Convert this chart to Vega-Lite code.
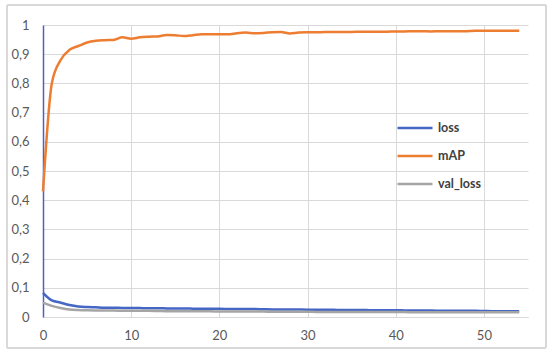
{
  "$schema": "https://vega.github.io/schema/vega-lite/v6.json",
  "width": 485,
  "height": 292,
  "autosize": {"type": "none"},
  "padding": {"left": 43, "top": 25, "right": 22, "bottom": 38},
  "background": "white",
  "config": {"view": {"stroke": null}, "font": "Lato"},
  "data": {"values": [
    {"epoch":0,"loss":0.083,"mAP":0.43,"val_loss":0.049},
    {"epoch":1,"loss":0.057,"mAP":0.80,"val_loss":0.038},
    {"epoch":2,"loss":0.049,"mAP":0.88,"val_loss":0.031},
    {"epoch":3,"loss":0.041,"mAP":0.915,"val_loss":0.026},
    {"epoch":4,"loss":0.036,"mAP":0.928,"val_loss":0.024},
    {"epoch":5,"loss":0.034,"mAP":0.94,"val_loss":0.023},
    {"epoch":6,"loss":0.033,"mAP":0.946,"val_loss":0.0225},
    {"epoch":7,"loss":0.032,"mAP":0.948,"val_loss":0.022},
    {"epoch":8,"loss":0.032,"mAP":0.949,"val_loss":0.022},
    {"epoch":9,"loss":0.031,"mAP":0.958,"val_loss":0.0215},
    {"epoch":10,"loss":0.031,"mAP":0.953,"val_loss":0.021},
    {"epoch":11,"loss":0.0305,"mAP":0.958,"val_loss":0.021},
    {"epoch":12,"loss":0.030,"mAP":0.96,"val_loss":0.021},
    {"epoch":13,"loss":0.030,"mAP":0.961,"val_loss":0.0205},
    {"epoch":14,"loss":0.0295,"mAP":0.966,"val_loss":0.020},
    {"epoch":15,"loss":0.029,"mAP":0.965,"val_loss":0.020},
    {"epoch":16,"loss":0.029,"mAP":0.962,"val_loss":0.020},
    {"epoch":17,"loss":0.0285,"mAP":0.965,"val_loss":0.020},
    {"epoch":18,"loss":0.028,"mAP":0.968,"val_loss":0.0195},
    {"epoch":19,"loss":0.028,"mAP":0.968,"val_loss":0.0195},
    {"epoch":20,"loss":0.028,"mAP":0.968,"val_loss":0.019},
    {"epoch":21,"loss":0.0275,"mAP":0.968,"val_loss":0.019},
    {"epoch":22,"loss":0.027,"mAP":0.972,"val_loss":0.019},
    {"epoch":23,"loss":0.027,"mAP":0.974,"val_loss":0.019},
    {"epoch":24,"loss":0.027,"mAP":0.972,"val_loss":0.0185},
    {"epoch":25,"loss":0.0265,"mAP":0.973,"val_loss":0.0185},
    {"epoch":26,"loss":0.026,"mAP":0.975,"val_loss":0.018},
    {"epoch":27,"loss":0.026,"mAP":0.976,"val_loss":0.018},
    {"epoch":28,"loss":0.026,"mAP":0.971,"val_loss":0.018},
    {"epoch":29,"loss":0.0255,"mAP":0.974,"val_loss":0.018},
    {"epoch":30,"loss":0.025,"mAP":0.975,"val_loss":0.018},
    {"epoch":31,"loss":0.025,"mAP":0.975,"val_loss":0.0175},
    {"epoch":32,"loss":0.025,"mAP":0.976,"val_loss":0.0175},
    {"epoch":33,"loss":0.0245,"mAP":0.976,"val_loss":0.0175},
    {"epoch":34,"loss":0.024,"mAP":0.976,"val_loss":0.0175},
    {"epoch":35,"loss":0.024,"mAP":0.976,"val_loss":0.017},
    {"epoch":36,"loss":0.024,"mAP":0.977,"val_loss":0.017},
    {"epoch":37,"loss":0.0235,"mAP":0.977,"val_loss":0.017},
    {"epoch":38,"loss":0.023,"mAP":0.977,"val_loss":0.017},
    {"epoch":39,"loss":0.023,"mAP":0.977,"val_loss":0.017},
    {"epoch":40,"loss":0.023,"mAP":0.978,"val_loss":0.0168},
    {"epoch":41,"loss":0.0225,"mAP":0.978,"val_loss":0.0167},
    {"epoch":42,"loss":0.022,"mAP":0.979,"val_loss":0.0166},
    {"epoch":43,"loss":0.022,"mAP":0.979,"val_loss":0.0165},
    {"epoch":44,"loss":0.022,"mAP":0.978,"val_loss":0.0165},
    {"epoch":45,"loss":0.0215,"mAP":0.979,"val_loss":0.0164},
    {"epoch":46,"loss":0.021,"mAP":0.979,"val_loss":0.0163},
    {"epoch":47,"loss":0.021,"mAP":0.979,"val_loss":0.0163},
    {"epoch":48,"loss":0.021,"mAP":0.979,"val_loss":0.0162},
    {"epoch":49,"loss":0.021,"mAP":0.98,"val_loss":0.0162},
    {"epoch":50,"loss":0.0205,"mAP":0.98,"val_loss":0.0161},
    {"epoch":51,"loss":0.020,"mAP":0.98,"val_loss":0.0161},
    {"epoch":52,"loss":0.020,"mAP":0.98,"val_loss":0.016},
    {"epoch":53,"loss":0.020,"mAP":0.98,"val_loss":0.016},
    {"epoch":54,"loss":0.020,"mAP":0.98,"val_loss":0.016}
  ]},
  "layer": [
    {
      "transform": [{"fold": ["loss", "mAP", "val_loss"], "as": ["series", "value"]}],
      "mark": {"type": "line", "strokeWidth": 2.5, "interpolate": "monotone"},
      "encoding": {
        "x": {
          "field": "epoch", "type": "quantitative",
          "scale": {"domain": [0, 55], "nice": false, "zero": true},
          "axis": {
            "title": null, "values": [0, 10, 20, 30, 40, 50],
            "grid": true, "gridColor": "#d9d9d9", "gridWidth": 1,
            "domain": true, "domainColor": "#d9d9d9", "domainWidth": 1,
            "ticks": false, "labelPadding": 12, "labelFontSize": 13,
            "labelColor": "#595959", "labelFont": "Lato",
            "labelOverlap": false, "labelFlush": false
          }
        },
        "y": {
          "field": "value", "type": "quantitative",
          "scale": {"domain": [0, 1], "nice": false},
          "axis": {
            "title": null, "values": [0, 0.1, 0.2, 0.3, 0.4, 0.5, 0.6, 0.7, 0.8, 0.9, 1],
            "labelExpr": "replace(format(datum.value, '.1~f'), '.', ',')",
            "grid": true, "gridColor": "#d9d9d9", "gridWidth": 1,
            "domain": true, "domainColor": "#4f60c0", "domainWidth": 1.5,
            "ticks": false, "labelPadding": 14, "labelFontSize": 13,
            "labelColor": "#595959", "labelFont": "Lato",
            "labelOverlap": false, "labelFlush": false
          }
        },
        "color": {
          "field": "series", "type": "nominal",
          "scale": {"domain": ["loss", "mAP", "val_loss"], "range": ["#4466c4", "#ED7D31", "#A5A5A5"]},
          "legend": {
            "title": null, "orient": "none", "legendX": 353, "legendY": 95,
            "symbolType": "stroke", "symbolSize": 1225, "symbolStrokeWidth": 2.5,
            "clipHeight": 16, "rowPadding": 12, "labelFontSize": 12.5,
            "labelFont": "Lato", "labelFontWeight": "bold", "labelColor": "#404040",
            "labelOffset": 4
          }
        }
      }
    },
    {
      "mark": {"type": "rect", "fill": null, "stroke": "#d9d9d9", "strokeWidth": 1, "clip": false},
      "encoding": {
        "x": {
          "datum": -4.08, "type": "quantitative",
          "scale": {"domain": [0, 55], "nice": false, "zero": true},
          "axis": {
            "title": null, "values": [0, 10, 20, 30, 40, 50],
            "grid": true, "gridColor": "#d9d9d9", "gridWidth": 1,
            "domain": true, "domainColor": "#d9d9d9", "domainWidth": 1,
            "ticks": false, "labelPadding": 12, "labelFontSize": 13,
            "labelColor": "#595959", "labelFont": "Lato",
            "labelOverlap": false, "labelFlush": false
          }
        },
        "x2": {"datum": 57.04},
        "y": {
          "datum": 1.0685, "type": "quantitative",
          "scale": {"domain": [0, 1], "nice": false},
          "axis": {
            "title": null, "values": [0, 0.1, 0.2, 0.3, 0.4, 0.5, 0.6, 0.7, 0.8, 0.9, 1],
            "labelExpr": "replace(format(datum.value, '.1~f'), '.', ',')",
            "grid": true, "gridColor": "#d9d9d9", "gridWidth": 1,
            "domain": true, "domainColor": "#4f60c0", "domainWidth": 1.5,
            "ticks": false, "labelPadding": 14, "labelFontSize": 13,
            "labelColor": "#595959", "labelFont": "Lato",
            "labelOverlap": false, "labelFlush": false
          }
        },
        "y2": {"datum": -0.106}
      }
    }
  ]
}
